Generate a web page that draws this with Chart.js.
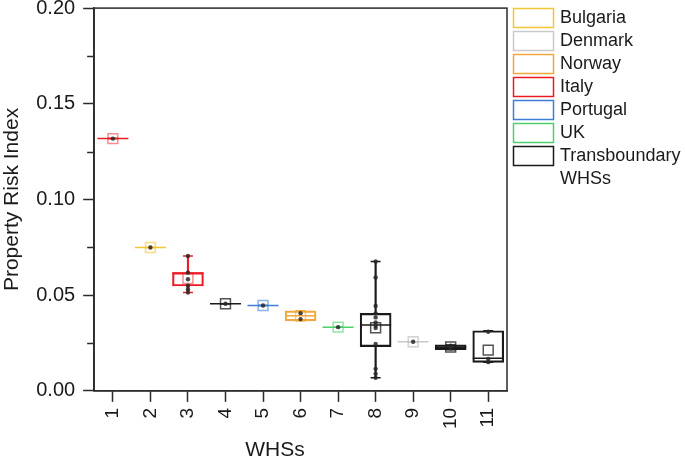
<!DOCTYPE html>
<html>
<head>
<meta charset="utf-8">
<script src="https://cdn.jsdelivr.net/npm/chart.js@4.4.1/dist/chart.umd.min.js"></script>
<style>
  html, body { margin: 0; padding: 0; background: #fff; }
</style>
</head>
<body>
<canvas id="whsChart" width="685" height="460"></canvas>
<script>
// --- données ---
const whsLabels = ['1', '2', '3', '4', '5', '6', '7', '8', '9', '10', '11'];
const whsGroup = ['Italy', 'Bulgaria', 'Italy', 'Transboundary WHSs', 'Portugal', 'Norway',
                  'UK', 'Transboundary WHSs', 'Denmark', 'Transboundary WHSs', 'Transboundary WHSs'];

const minValues    = [0.1318, 0.0749, 0.0514, 0.0455, 0.0446, 0.0366, 0.0333, 0.0068, 0.0257, 0.0215, 0.0149];
const q1Values     = [0.1318, 0.0749, 0.0548, 0.0455, 0.0446, 0.0366, 0.0333, 0.0231, 0.0257, 0.0215, 0.0149];
const medianValues = [0.1318, 0.0749, 0.0616, 0.0455, 0.0446, 0.0392, 0.0333, 0.0344, 0.0257, 0.0228, 0.0170];
const q3Values     = [0.1318, 0.0749, 0.0618, 0.0455, 0.0446, 0.0418, 0.0333, 0.0405, 0.0257, 0.0240, 0.0314];
const maxValues    = [0.1318, 0.0749, 0.0705, 0.0455, 0.0446, 0.0418, 0.0333, 0.0676, 0.0257, 0.0240, 0.0314];
const meanValues   = [0.1318, 0.0749, 0.0587, 0.0455, 0.0446, 0.0392, 0.0333, 0.0330, 0.0257, 0.0229, 0.0213];

// points bruts par WHS
const sampleValues = [
    [0.1318],
    [0.0749],
    [0.0705, 0.0618, 0.0583, 0.0549, 0.0531, 0.0514],
    [0.0455],
    [0.0446],
    [0.0406, 0.0375],
    [0.0333],
    [0.0676, 0.0592, 0.0444, 0.0405, 0.0384, 0.0358, 0.0340, 0.0328, 0.0245, 0.0115, 0.0089, 0.0068],
    [0.0257],
    [0.0236, 0.0230, 0.0226, 0.0222],
    [0.0309, 0.0167, 0.0150]
];

const legendGroups = ['Bulgaria', 'Denmark', 'Norway', 'Italy', 'Portugal', 'UK', 'Transboundary WHSs'];

// --- styles ---
const groupColors = {
    'Bulgaria': '#f4c534',
    'Denmark': '#c9c9c9',
    'Norway': '#f2a93b',
    'Italy': '#ec1c24',
    'Portugal': '#3d7fd6',
    'UK': '#4fd06b',
    'Transboundary WHSs': '#1a1a1a'
};
const groupMeanColors = {
    'Bulgaria': 'rgba(244,197,52,0.6)',
    'Denmark': 'rgba(180,180,180,0.6)',
    'Norway': 'rgba(242,169,59,0.6)',
    'Italy': 'rgba(236,28,36,0.5)',
    'Portugal': 'rgba(61,127,214,0.6)',
    'UK': 'rgba(79,208,107,0.6)',
    'Transboundary WHSs': 'rgba(26,26,26,0.75)'
};
const FONT = "'Liberation Sans', Arial, sans-serif";
const AXIS = '#2b2b2b';

const catColors = whsGroup.map(g => groupColors[g]);
const catMeanColors = whsGroup.map(g => groupMeanColors[g]);

// Cadre, petites graduations, légende et titre X
const decorPlugin = {
    id: 'decor',
    afterDraw(chart) {
        const { ctx, chartArea: a, scales } = chart;
        ctx.save();
        ctx.strokeStyle = AXIS;
        ctx.lineWidth = 1.5;
        ctx.strokeRect(a.left, a.top, a.right - a.left, a.bottom - a.top);

        // graduations mineures
        scales.y.ticks.forEach(t => {
            if (isMajor(t.value)) return;
            const y = Math.round(scales.y.getPixelForValue(t.value)) + 0.5;
            ctx.beginPath();
            ctx.moveTo(a.left - 7, y);
            ctx.lineTo(a.left, y);
            ctx.stroke();
        });

        // légende
        ctx.font = '18px ' + FONT;
        ctx.textBaseline = 'middle';
        ctx.textAlign = 'left';
        legendGroups.forEach((g, i) => {
            const cy = 18 + i * 23;
            ctx.strokeStyle = groupColors[g];
            ctx.lineWidth = 1.5;
            ctx.strokeRect(a.right + 6.5, cy - 9.5, 40, 19);
            ctx.fillStyle = '#1a1a1a';
            const lines = g === 'Transboundary WHSs' ? ['Transboundary', 'WHSs'] : [g];
            lines.forEach((l, k) => ctx.fillText(l, a.right + 53, cy + k * 23));
        });

        // titre axe X
        ctx.font = '21px ' + FONT;
        ctx.textAlign = 'center';
        ctx.fillText('WHSs', 275, 450);
        ctx.restore();
    }
};

function isMajor(v) {
    return Math.abs(v * 20 - Math.round(v * 20)) < 1e-6;
}

const canvas = document.getElementById('whsChart');

new Chart(canvas, {
    type: 'bar',
    plugins: [decorPlugin],
    data: {
        labels: whsLabels,
        datasets: [
            // points bruts (au-dessus)
            {
                type: 'line',
                label: 'Points',
                data: sampleValues.flatMap((vals, i) => vals.map(v => ({ x: whsLabels[i], y: v }))),
                showLine: false,
                pointRadius: 2.2,
                pointBackgroundColor: 'rgba(40,40,40,0.85)',
                pointBorderWidth: 0
            },
            // moyenne
            {
                type: 'line',
                label: 'Moyenne',
                data: meanValues,
                showLine: false,
                pointStyle: 'rect',
                pointRadius: 7,
                pointBackgroundColor: 'rgba(0,0,0,0)',
                pointBorderColor: catMeanColors,
                pointBorderWidth: 1.5
            },
            // médiane
            {
                type: 'line',
                label: 'Médiane',
                data: medianValues,
                showLine: false,
                pointStyle: 'line',
                pointRadius: 15.5,
                pointBorderColor: catColors,
                pointBorderWidth: 1.5
            },
            // moustaches : extrémités
            {
                type: 'line',
                label: 'Max',
                data: maxValues,
                showLine: false,
                pointStyle: 'line',
                pointRadius: 5,
                pointBorderColor: catColors,
                pointBorderWidth: 1.5
            },
            {
                type: 'line',
                label: 'Min',
                data: minValues,
                showLine: false,
                pointStyle: 'line',
                pointRadius: 5,
                pointBorderColor: catColors,
                pointBorderWidth: 1.5
            },
            // moustaches : segments
            {
                label: 'Moustache haute',
                data: whsLabels.map((_, i) => [q3Values[i], maxValues[i]]),
                backgroundColor: catColors,
                borderWidth: 0,
                barThickness: 1.5,
                grouped: false
            },
            {
                label: 'Moustache basse',
                data: whsLabels.map((_, i) => [minValues[i], q1Values[i]]),
                backgroundColor: catColors,
                borderWidth: 0,
                barThickness: 1.5,
                grouped: false
            },
            // boîtes
            {
                label: 'Boîte',
                data: whsLabels.map((_, i) => [q1Values[i], q3Values[i]]),
                backgroundColor: 'rgba(0,0,0,0)',
                borderColor: catColors,
                borderWidth: 1.5,
                borderSkipped: false,
                barThickness: 31,
                grouped: false
            }
        ]
    },
    options: {
        responsive: false,
        animation: false,
        events: [],
        layout: { autoPadding: false, padding: { top: 0, right: 178, bottom: 25, left: 0 } },
        plugins: {
            legend: { display: false },
            tooltip: { enabled: false }
        },
        scales: {
            x: {
                offset: true,
                grid: {
                    offset: false,
                    drawOnChartArea: false,
                    tickLength: 11,
                    tickWidth: 1.5,
                    tickColor: AXIS
                },
                border: { display: true, color: AXIS, width: 1.5 },
                ticks: {
                    minRotation: 90,
                    maxRotation: 90,
                    padding: 6,
                    color: '#1a1a1a',
                    font: { family: FONT, size: 19 }
                }
            },
            y: {
                min: 0,
                max: 0.2,
                grid: {
                    drawOnChartArea: false,
                    tickLength: 11,
                    tickWidth: 1.5,
                    tickColor: ctx => isMajor(ctx.tick.value) ? AXIS : 'rgba(0,0,0,0)'
                },
                border: { display: true, color: AXIS, width: 1.5 },
                ticks: {
                    stepSize: 0.025,
                    autoSkip: false,
                    padding: 8,
                    color: '#1a1a1a',
                    font: { family: FONT, size: 20, lineHeight: 0.01 },
                    callback: v => isMajor(v) ? v.toFixed(2) : ''
                },
                title: {
                    display: true,
                    text: 'Property Risk Index',
                    color: '#1a1a1a',
                    font: { family: FONT, size: 21 },
                    padding: { top: 0, bottom: 3 }
                }
            }
        }
    }
});
</script>
</body>
</html>
